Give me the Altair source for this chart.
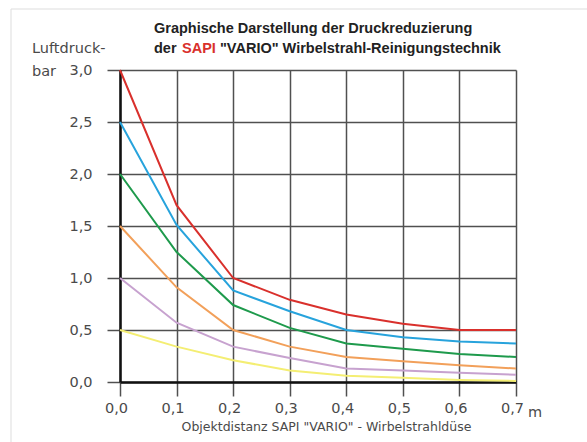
import altair as alt
import pandas as pd

distance = [0.0, 0.1, 0.2, 0.3, 0.4, 0.5, 0.6, 0.7]
p30 = [3.0, 1.70, 1.00, 0.79, 0.65, 0.56, 0.50, 0.50]
p25 = [2.5, 1.51, 0.88, 0.68, 0.50, 0.43, 0.39, 0.37]
p20 = [2.0, 1.25, 0.74, 0.52, 0.37, 0.32, 0.27, 0.24]
p15 = [1.5, 0.91, 0.50, 0.34, 0.24, 0.20, 0.16, 0.13]
p10 = [1.0, 0.57, 0.34, 0.23, 0.13, 0.11, 0.09, 0.07]
p05 = [0.5, 0.34, 0.21, 0.11, 0.06, 0.04, 0.02, 0.01]

series_names = ["3,0 bar", "2,5 bar", "2,0 bar", "1,5 bar", "1,0 bar", "0,5 bar"]
series_values = [p30, p25, p20, p15, p10, p05]
series_colors = ["#d9302c", "#27a3dc", "#1e9a4c", "#f2a05a", "#c7a2cf", "#f4ee73"]

x_ticks = [0.0, 0.1, 0.2, 0.3, 0.4, 0.5, 0.6, 0.7]
y_ticks = [0.0, 0.5, 1.0, 1.5, 2.0, 2.5, 3.0]

rows = []
for name, vals in zip(series_names, series_values):
    for d, v in zip(distance, vals):
        rows.append({"Distanz": d, "Druck": v, "Serie": name})
df = pd.DataFrame(rows)

W, H = 396, 312
FONT = "DejaVu Sans"
TXT = "#4a4a4a"
GRID = "#505050"

lines = alt.Chart(df).mark_line(strokeWidth=2, clip=False).encode(
    x=alt.X("Distanz:Q",
            scale=alt.Scale(domain=[0, 0.7], nice=False, zero=False),
            axis=alt.Axis(values=x_ticks, title="Objektdistanz SAPI \"VARIO\" - Wirbelstrahldüse",
                          labelExpr="replace(format(datum.value, '.1f'), '.', ',')",
                          labelFlush=False, labelOffset=-4,
                          grid=True, gridColor=GRID, gridWidth=1.5, gridOpacity=1,
                          tickColor=GRID, tickWidth=1.5, tickSize=14,
                          domainColor="#111111", domainWidth=2.5,
                          labelFont=FONT, labelFontSize=14.5, labelColor=TXT, labelPadding=5,
                          titleFont=FONT, titleFontSize=12.5, titleFontWeight="normal",
                          titleColor=TXT, titlePadding=6, titleX=206)),
    y=alt.Y("Druck:Q",
            scale=alt.Scale(domain=[0, 3.0], nice=False, zero=False),
            axis=alt.Axis(values=y_ticks, title=None,
                          labelExpr="replace(format(datum.value, '.1f'), '.', ',')",
                          labelFlush=False,
                          grid=True, gridColor=GRID, gridWidth=1.5, gridOpacity=1,
                          tickColor=GRID, tickWidth=1.5, tickSize=13,
                          domainColor="#111111", domainWidth=2.5,
                          labelFont=FONT, labelFontSize=14.5, labelColor=TXT, labelPadding=15)),
    color=alt.Color("Serie:N", scale=alt.Scale(domain=series_names, range=series_colors), legend=None),
    order=alt.Order("Distanz:Q"),
    detail="Serie:N",
)

def txt(s, x, y, size=14, weight="normal", color=TXT, align="left", font=FONT):
    return alt.Chart(pd.DataFrame({"t": [s]})).mark_text(
        align=align, baseline="alphabetic", fontSize=size, fontWeight=weight,
        color=color, font=font).encode(text="t:N", x=alt.value(x), y=alt.value(y))

title_font = "Liberation Sans"
TS = 14.5
t1 = txt("Graphische Darstellung der Druckreduzierung", 34, -37, size=TS, weight="bold", color="#222222", font=title_font)
t2a = txt("der", 34, -17, size=TS, weight="bold", color="#222222", font=title_font)
t2b = txt("SAPI", 62, -17, size=TS, weight="bold", color="#d9302c", font=title_font)
t2c = txt("\"VARIO\" Wirbelstrahl-Reinigungstechnik", 100, -17, size=TS, weight="bold", color="#222222", font=title_font)
ylab1 = txt("Luftdruck-", -88, -17, size=14.5)
ylab2 = txt("bar", -88, 6, size=14.5)
unit = txt("m", 408, 347, size=14.5)

border_top = alt.Chart(pd.DataFrame({"a": [0]})).mark_rule(color="#dddddd", strokeWidth=1).encode(
    x=alt.value(-109), x2=alt.value(467), y=alt.value(-61))
border_left = alt.Chart(pd.DataFrame({"a": [0]})).mark_rule(color="#dddddd", strokeWidth=1).encode(
    x=alt.value(-109), y=alt.value(-61), y2=alt.value(372))

chart = alt.layer(border_top, border_left, lines, t1, t2a, t2b, t2c, ylab1, ylab2, unit).properties(
    width=W, height=H,
    autosize=alt.AutoSizeParams(type="none"),
    padding={"left": 120, "top": 70, "right": 71, "bottom": 60},
    background="white",
).configure_view(stroke=None)

chart.save("out.html", embed_options={"renderer": "svg", "actions": False})
